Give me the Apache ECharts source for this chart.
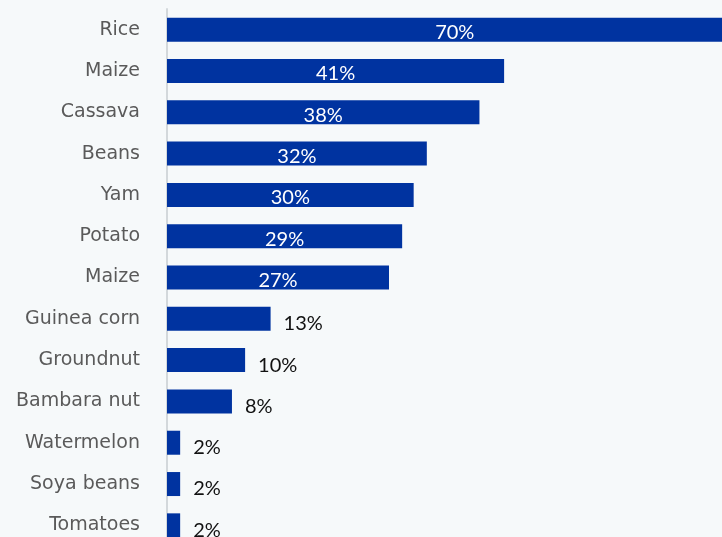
<!DOCTYPE html>
<html>
<head>
<meta charset="utf-8">
<script src="https://cdn.jsdelivr.net/npm/echarts@6/dist/echarts.min.js"></script>
<style>
html,body{margin:0;padding:0;background:#f6f9fa;overflow:hidden;}
#c{width:722px;height:546px;}
</style>
</head>
<body>
<div id="c"></div>
<script>
const categories = ["Rice","Maize","Cassava","Beans","Yam","Potato","Maize","Guinea corn","Groundnut","Bambara nut","Watermelon","Soya beans","Tomatoes"];
const values = [70, 41, 38, 31.6, 30, 28.6, 27, 12.6, 9.5, 7.9, 1.6, 1.6, 1.6];
const labels = ["70%","41%","38%","32%","30%","29%","27%","13%","10%","8%","2%","2%","2%"];

const chart = echarts.init(document.getElementById('c'), null, {renderer:'canvas'});
const FONT = 'Lato, "Open Sans", sans-serif';
const data = values.map((v, i) => {
  const inside = v >= 20;
  return {
    value: v,
    label: inside ? {
      position: 'inside', color: '#ffffff', offset: [0, 3]
    } : {
      position: 'right', color: '#111111', distance: 13, offset: [0, 5]
    }
  };
});
chart.setOption({
  backgroundColor: '#f6f9fa',
  animation: false,
  grid: {left: 167, right: 0, top: 9, bottom: 0, containLabel: false},
  xAxis: {
    type: 'value', min: 0, max: 67.5,
    show: false
  },
  yAxis: {
    type: 'category', data: categories, inverse: true,
    axisLine: {show: true, lineStyle: {color: '#d3d8db', width: 2}},
    axisTick: {show: false},
    axisLabel: {color: '#5a5a5a', fontSize: 19, fontFamily: '"DejaVu Sans", sans-serif', margin: 27}
  },
  series: [{
    type: 'bar', data: data, barWidth: 24, clip: false,
    itemStyle: {color: '#0033a0'},
    label: {
      show: true, fontSize: 20, fontFamily: FONT,
      formatter: p => labels[p.dataIndex]
    }
  }]
});
</script>
</body>
</html>
